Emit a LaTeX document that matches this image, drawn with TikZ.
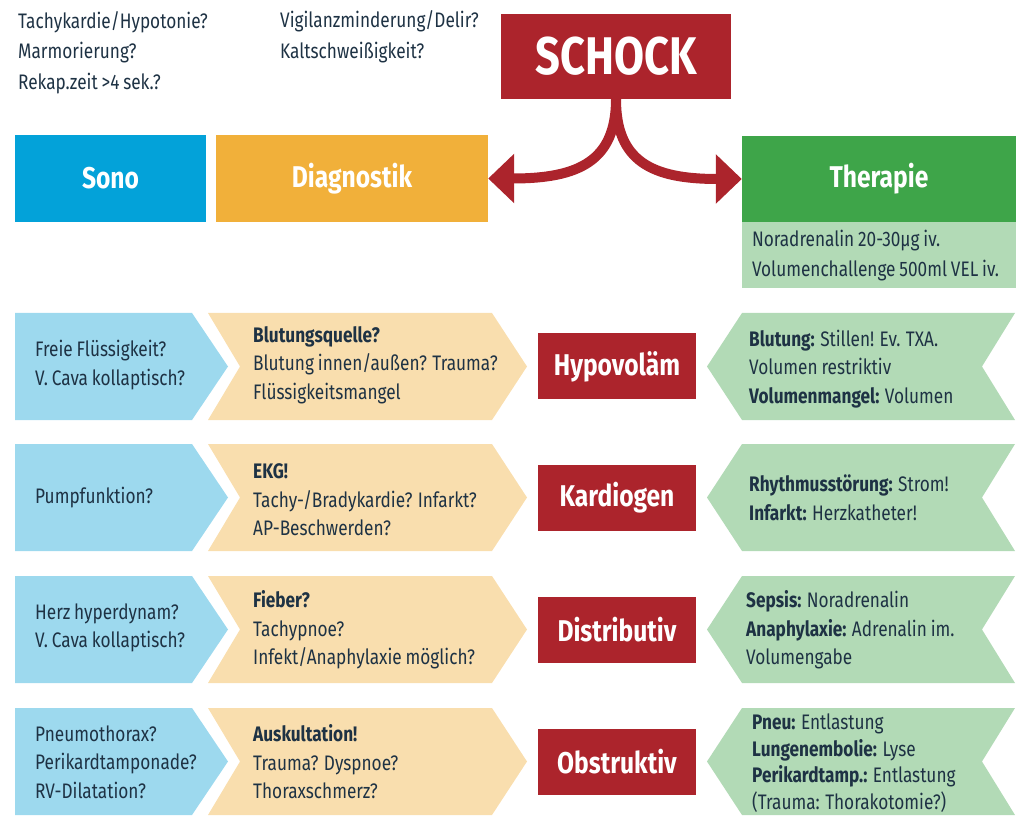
\documentclass[tikz,border=0pt]{standalone}
\usepackage{fontspec}
\setmainfont{Fira Sans}[FakeStretch=0.82,WordSpace=0.85]
\usetikzlibrary{positioning,calc,arrows.meta}
\definecolor{ShockRed}{RGB}{172,36,44}
\definecolor{SonoBlue}{RGB}{3,162,217}
\definecolor{DiagOrange}{RGB}{241,176,58}
\definecolor{TherGreen}{RGB}{62,165,73}
\definecolor{SonoLight}{RGB}{157,217,238}
\definecolor{DiagLight}{RGB}{249,222,174}
\definecolor{TherLight}{RGB}{178,218,182}
\definecolor{InkNavy}{RGB}{30,50,68}
\tikzset{
  head/.style={fill=#1,text=white,inner sep=0pt,minimum height=87pt,
    font=\fontsize{30}{36}\selectfont\bfseries},
  cause/.style={fill=ShockRed,text=white,inner sep=0pt,minimum width=158pt,
    minimum height=66pt,font=\fontsize{30}{36}\selectfont\bfseries},
  txt/.style={anchor=west,align=left,inner sep=0pt,text=InkNavy,
    font=\fontsize{21}{28.5}\selectfont},
}
\tikzset{bigarrow/.style={draw=ShockRed,line width=10pt,-{Triangle[length=26pt,width=48pt]}}}

\begin{document}
\begin{tikzpicture}[x=1pt,y=-1pt]
\useasboundingbox (0,0) rectangle (1026,826);
% Leitsymptome
\node[txt,font=\fontsize{21}{30.5}\selectfont] (sympt1) at (18,52.5) {Tachykardie/Hypotonie?\\Marmorierung?\\Rekap.zeit >4 sek.?};
\node[txt,font=\fontsize{21}{30.5}\selectfont] (sympt2) at (280,37) {Vigilanzminderung/Delir?\\Kaltschweißigkeit?};
% Kopfzeile
\node[cause,minimum width=230pt,minimum height=85pt,font=\fontsize{53}{60}\selectfont\bfseries] (shock) at (616,56.5) {SCHOCK};
\node[head=SonoBlue,minimum width=191pt] (sono) at (110.5,178.5) {Sono};
\node[head=DiagOrange,minimum width=272pt] (diag) at (352,178.5) {Diagnostik};
\node[head=TherGreen,minimum width=274pt,minimum height=86pt] (ther) at (879,179) {Therapie};
\node[fill=TherLight,inner sep=0pt,minimum width=274pt,minimum height=66pt,below=0pt of ther] (therbox) {};
\node[txt,font=\fontsize{21}{30}\selectfont] (therinfo) at ($(therbox.west)+(10,0)$) {Noradrenalin 20-30µg iv.\\Volumenchallenge 500ml VEL iv.};
\draw[bigarrow] (shock.south) .. controls +(0,62) and +(90,0) .. (diag.east);
\draw[bigarrow] (shock.south) .. controls +(0,62) and +(-90,0) .. (ther.west);
% Pfeilbänder
\foreach \t in {313,444,576,708}{
  \fill[SonoLight] (15,\t) -- ++(177,0) -- ++(36,53.5) -- ++(-36,53.5) -- ++(-177,0) -- cycle;
  \fill[DiagLight] (208,\t) -- ++(284,0) -- ++(35,53.5) -- ++(-35,53.5) -- ++(-284,0) -- ++(32,-53.5) -- cycle;
  \fill[TherLight] (742,\t) -- ++(273,0) -- ++(-33,53.5) -- ++(33,53.5) -- ++(-273,0) -- ++(-35,-53.5) -- cycle;
}
% Hypovolaem
\node[txt] (sono1) at (35,365) {Freie Flüssigkeit?\\V. Cava kollaptisch?};
\node[txt] (diag1) at (253,365) {\textbf{Blutungsquelle?}\\Blutung innen/außen? Trauma?\\Flüssigkeitsmangel};
\node[cause] (hypo) at (617,366.5) {Hypovoläm};
\node[txt] (ther1) at (749,369) {\textbf{Blutung:} Stillen! Ev. TXA.\\Volumen restriktiv\\\textbf{Volumenmangel:} Volumen};
% Kardiogen
\node[txt] (sono2) at (35,497.5) {Pumpfunktion?};
\node[txt] (diag2) at (253,500) {\textbf{EKG!}\\Tachy-/Bradykardie? Infarkt?\\AP-Beschwerden?};
\node[cause] (kardio) at (617,497.5) {Kardiogen};
\node[txt] (ther2) at (749,498) {\textbf{Rhythmusstörung:} Strom!\\\textbf{Infarkt:} Herzkatheter!};
% Distributiv
\node[txt] (sono3) at (35,628) {Herz hyperdynam?\\V. Cava kollaptisch?};
\node[txt] (diag3) at (253,630) {\textbf{Fieber?}\\Tachypnoe?\\Infekt/Anaphylaxie möglich?};
\node[cause] (distri) at (617,629.5) {Distributiv};
\node[txt] (ther3) at (746,630) {\textbf{Sepsis:} Noradrenalin\\\textbf{Anaphylaxie:} Adrenalin im.\\Volumengabe};
% Obstruktiv
\node[txt] (sono4) at (35,762) {Pneumothorax?\\Perikardtamponade?\\RV-Dilatation?};
\node[txt] (diag4) at (253,762) {\textbf{Auskultation!}\\Trauma? Dyspnoe?\\Thoraxschmerz?};
\node[cause] (obstr) at (617,761.5) {Obstruktiv};
\node[txt,font=\fontsize{21}{26.5}\selectfont] (ther4) at (752,763) {\textbf{Pneu:} Entlastung\\\textbf{Lungenembolie:} Lyse\\\textbf{Perikardtamp.:} Entlastung\\(Trauma: Thorakotomie?)};
\end{tikzpicture}
\end{document}
